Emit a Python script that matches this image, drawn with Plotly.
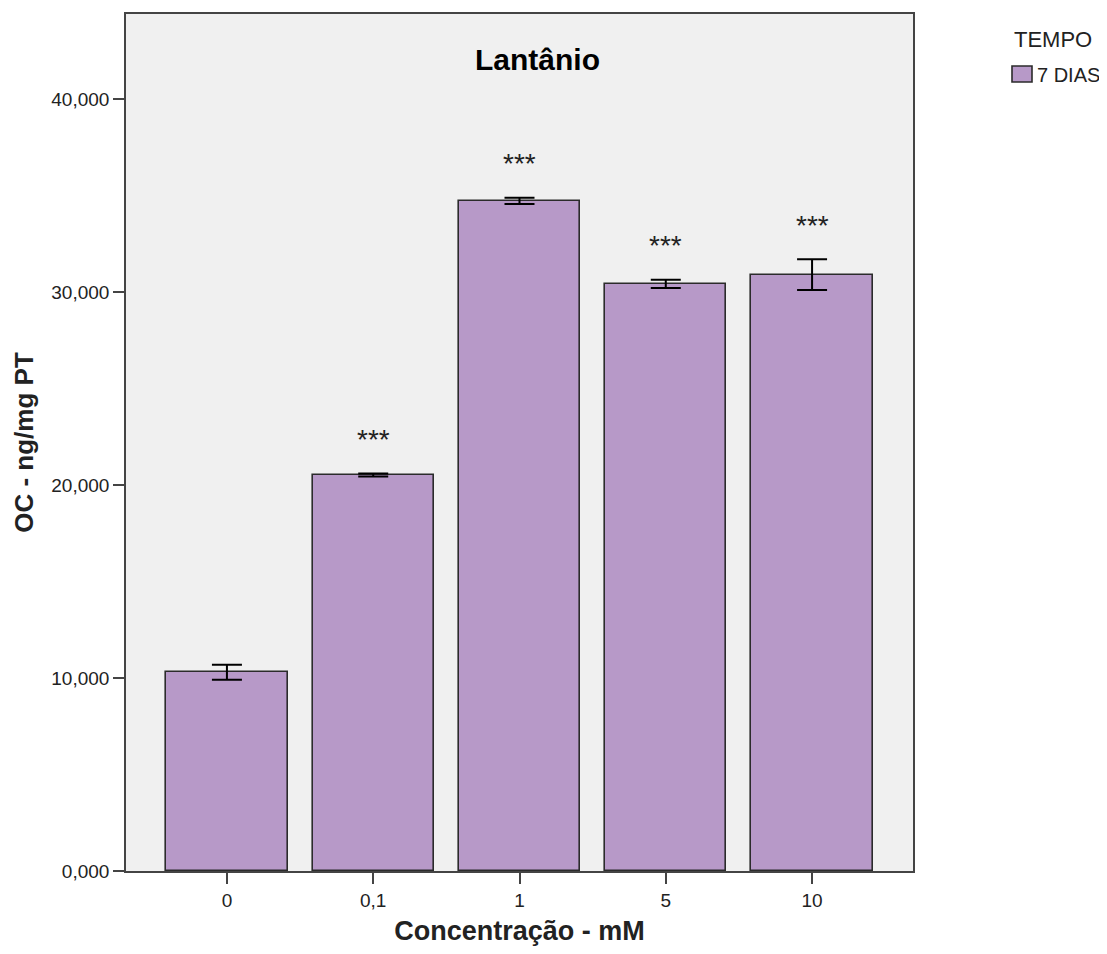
import plotly.graph_objects as go

categories = ["0", "0,1", "1", "5", "10"]
values = [10300, 20520, 34720, 30420, 30900]
errors = [390, 80, 160, 210, 800]
stars = ["", "***", "***", "***", "***"]
series_name = "7 DIAS"
legend_title = "TEMPO"
y_ticks = [0, 10000, 20000, 30000, 40000]
y_tick_labels = ["0,000", "10,000", "20,000", "30,000", "40,000"]

BAR_COLOR = "#B799C8"
EDGE = "#2b2b2b"

# plot-area geometry in page pixels (used only to place legend/title text)
PL, PR, PT, PB = 126, 913, 14, 871


def px_x(p):
    return (p - PL) / (PR - PL)


def px_y(p):
    return 1 - (p - PT) / (PB - PT)


fig = go.Figure()
fig.add_trace(go.Bar(
    x=list(range(len(categories))), y=values, name=series_name,
    marker=dict(color=BAR_COLOR, line=dict(color=EDGE, width=1.6)),
    width=0.83,
    error_y=dict(type="data", array=errors, visible=True, color="black", thickness=2, width=15),
    showlegend=False,
))

for i, (v, e, s) in enumerate(zip(values, errors, stars)):
    if s:
        fig.add_annotation(x=i, y=v + e, text=s, showarrow=False, yanchor="middle",
                           yshift=34, font=dict(family="Arial", size=28, color="#222"))

fig.add_annotation(x=px_x(537), xref="paper", y=px_y(60), yref="paper", text="<b>Lantânio</b>",
                   showarrow=False, yanchor="middle",
                   font=dict(family="Arial", size=30, color="black"))

# legend (drawn manually to match reference spacing)
fig.add_annotation(x=px_x(1012), xref="paper", y=px_y(39), yref="paper", text=legend_title,
                   showarrow=False, xanchor="left", yanchor="middle",
                   font=dict(family="Arial", size=22, color="#222"))
fig.add_shape(type="rect", xref="paper", yref="paper",
              x0=px_x(1012), x1=px_x(1032), y0=px_y(82), y1=px_y(66),
              fillcolor=BAR_COLOR, line=dict(color=EDGE, width=1.6))
fig.add_annotation(x=px_x(1035), xref="paper", y=px_y(75), yref="paper", text=series_name,
                   showarrow=False, xanchor="left", yanchor="middle",
                   font=dict(family="Arial", size=20, color="#222"))

fig.update_layout(
    width=1091, height=938,
    margin=dict(l=118, r=186, t=6, b=75),
    paper_bgcolor="white", plot_bgcolor="#F0F0F0",
    font=dict(family="Arial", color="#222"),
    bargap=0,
    showlegend=False,
)
fig.update_xaxes(
    tickmode="array", tickvals=list(range(len(categories))), ticktext=categories,
    range=[-0.69, 4.69], showgrid=False, zeroline=False, automargin=False,
    showline=True, linecolor="#444", linewidth=1.6, mirror=True,
    ticks="outside", ticklen=11, tickcolor="#444", tickwidth=1.6,
    tickfont=dict(size=19, color="#222"),
    title=dict(text="<b>Concentração - mM</b>", font=dict(size=27, color="#222"), standoff=14),
)
fig.update_yaxes(
    tickmode="array", tickvals=y_ticks, ticktext=y_tick_labels,
    range=[0, 44400], showgrid=False, zeroline=False, automargin=False,
    showline=True, linecolor="#444", linewidth=1.6, mirror=True,
    ticks="outside", ticklen=11, tickcolor="#444", tickwidth=1.6,
    tickfont=dict(size=19, color="#222"),
    title=dict(text="<b>OC - ng/mg PT</b>", font=dict(size=26, color="#222"), standoff=10),
)

fig.write_html("out.html")
